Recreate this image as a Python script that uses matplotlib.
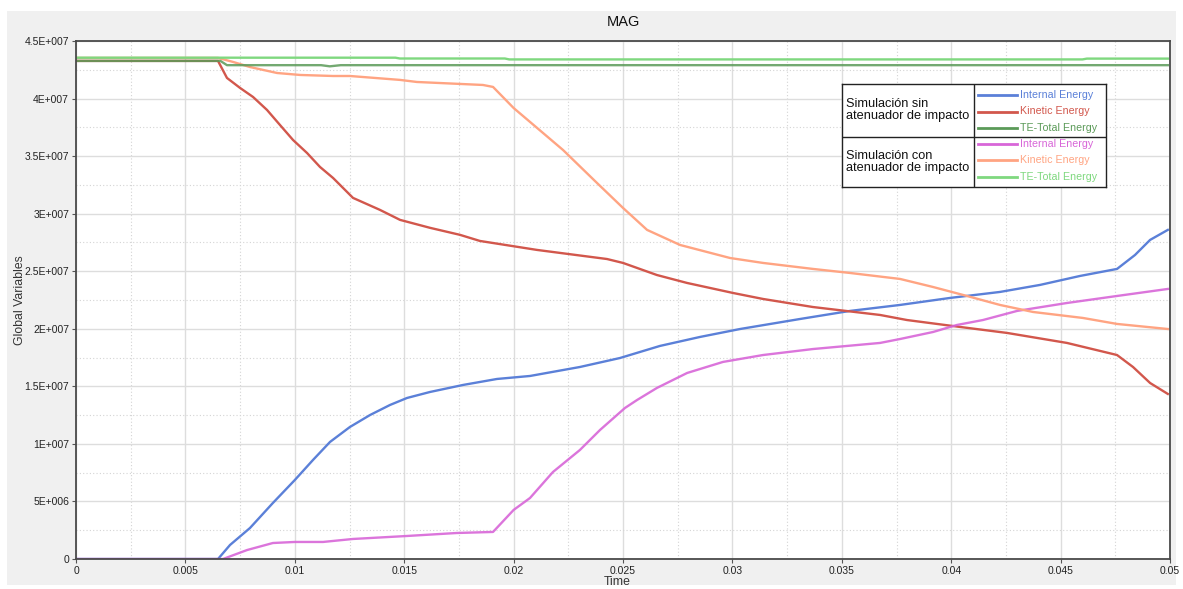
import numpy as np
import matplotlib.pyplot as plt
from matplotlib.patches import Rectangle

plt.rcParams['font.family'] = ['Liberation Sans', 'DejaVu Sans']

# Data (energy values in 1e7 units, time in s)
t_ie_sin = [0, 0.00649, 0.00704, 0.00795, 0.0090, 0.0100, 0.01083, 0.01161, 0.01252, 0.01344,
            0.01435, 0.01513, 0.01618, 0.01769, 0.01924, 0.02075, 0.02303, 0.02486, 0.02669,
            0.02852, 0.03035, 0.03309, 0.03537, 0.03766, 0.03995, 0.04223, 0.04406, 0.04589,
            0.04758, 0.0484, 0.04909, 0.0499]
ie_sin = [0, 0, 0.122, 0.269, 0.487, 0.686, 0.860, 1.017, 1.147, 1.251,
          1.338, 1.399, 1.451, 1.512, 1.564, 1.590, 1.668, 1.746, 1.851,
          1.929, 1.998, 2.085, 2.155, 2.207, 2.268, 2.320, 2.381, 2.459,
          2.520, 2.641, 2.772, 2.859]

t_ke_sin = [0, 0.00649, 0.0069, 0.0075, 0.00809, 0.00873, 0.00932, 0.00992, 0.01056, 0.01115,
            0.01175, 0.01266, 0.01389, 0.01481, 0.01618, 0.01755, 0.01846, 0.02107, 0.02427,
            0.025, 0.02655, 0.02793, 0.03003, 0.0314, 0.03368, 0.03675, 0.03798, 0.0404,
            0.04255, 0.04529, 0.04758, 0.04831, 0.04909, 0.0499]
ke_sin = [4.327, 4.327, 4.179, 4.092, 4.014, 3.901, 3.771, 3.640, 3.527, 3.406,
          3.310, 3.137, 3.033, 2.946, 2.877, 2.816, 2.763, 2.685, 2.606,
          2.572, 2.467, 2.398, 2.311, 2.259, 2.189, 2.120, 2.076, 2.016,
          1.964, 1.877, 1.772, 1.668, 1.529, 1.434]

t_te_sin = [0, 0.0066, 0.0069, 0.0112, 0.0116, 0.0121, 0.0499]
te_sin = [4.327, 4.327, 4.29, 4.29, 4.28, 4.29, 4.29]

t_ie_con = [0, 0.00672, 0.00782, 0.0090, 0.0100, 0.01129, 0.01266, 0.01513, 0.01741, 0.01906,
            0.0200, 0.02075, 0.0218, 0.02303, 0.02395, 0.02509, 0.02564, 0.02655, 0.02793,
            0.02957, 0.0314, 0.03368, 0.03675, 0.03766, 0.03917, 0.04026, 0.04145, 0.04301,
            0.04529, 0.04758, 0.0499]
ie_con = [0, 0, 0.078, 0.139, 0.148, 0.148, 0.174, 0.200, 0.226, 0.235,
          0.426, 0.530, 0.756, 0.947, 1.121, 1.312, 1.381, 1.486, 1.616,
          1.712, 1.772, 1.824, 1.877, 1.911, 1.972, 2.033, 2.076, 2.155,
          2.224, 2.285, 2.346]

t_ke_con = [0, 0.00649, 0.00718, 0.00795, 0.00919, 0.01024, 0.01175, 0.01252, 0.01481, 0.01558,
            0.0186, 0.01906, 0.0200, 0.02075, 0.02226, 0.02381, 0.025, 0.0261, 0.02761,
            0.02989, 0.0314, 0.03368, 0.03537, 0.03766, 0.03917, 0.04072, 0.04223, 0.04374,
            0.04602, 0.04758, 0.0499]
ke_con = [4.353, 4.353, 4.318, 4.274, 4.222, 4.205, 4.196, 4.196, 4.162, 4.144,
          4.118, 4.101, 3.918, 3.797, 3.553, 3.267, 3.050, 2.859, 2.728,
          2.615, 2.572, 2.520, 2.485, 2.433, 2.363, 2.285, 2.207, 2.146,
          2.094, 2.042, 1.998]

t_te_con = [0, 0.0146, 0.0148, 0.0196, 0.0198, 0.0460, 0.0462, 0.0499]
te_con = [4.355, 4.355, 4.348, 4.348, 4.34, 4.34, 4.347, 4.347]

x_ticks = [0, 0.005, 0.01, 0.015, 0.02, 0.025, 0.03, 0.035, 0.04, 0.045, 0.05]
x_labels = ['0', '0.005', '0.01', '0.015', '0.02', '0.025', '0.03', '0.035', '0.04', '0.045', '0.05']
y_ticks = [0, 0.5, 1, 1.5, 2, 2.5, 3, 3.5, 4, 4.5]
y_labels = ['0', '5E+006', '1E+007', '1.5E+007', '2E+007', '2.5E+007', '3E+007',
            '3.5E+007', '4E+007', '4.5E+007']

series_names = ['Internal Energy', 'Kinetic Energy', 'TE-Total Energy']
group_names = ['Simulación sin\natenuador de impacto', 'Simulación con\natenuador de impacto']
colors_sin = ['#5b80d8', '#d2574c', '#5b9a58']
colors_con = ['#d866d8', '#ffa482', '#7fd87f']

W, H = 1183, 589
fig = plt.figure(figsize=(W / 100, H / 100), dpi=100, facecolor='white')
fig.patches.append(Rectangle((7 / W, 4 / H), 1169 / W, 574 / H, transform=fig.transFigure,
                             facecolor='#f0f0f0', edgecolor='none', zorder=-10))

ax = fig.add_axes([76 / W, 30 / H, 1094 / W, 518 / H])
ax.set_facecolor('white')

lw = 1.7
ax.plot(t_ie_sin, ie_sin, color=colors_sin[0], lw=lw)
ax.plot(t_ke_sin, ke_sin, color=colors_sin[1], lw=lw)
ax.plot(t_ie_con, ie_con, color=colors_con[0], lw=lw, alpha=0.9)
ax.plot(t_ke_con, ke_con, color=colors_con[1], lw=lw)
ax.plot(t_te_con, te_con, color=colors_con[2], lw=lw)
ax.plot(t_te_sin, te_sin, color=colors_sin[2], lw=lw, alpha=0.85)

ax.set_xlim(0, 0.05)
ax.set_ylim(0, 4.5)
ax.set_xticks(x_ticks)
ax.set_xticklabels(x_labels)
ax.set_yticks(y_ticks)
ax.set_yticklabels(y_labels)
ax.set_xticks(np.arange(0.0025, 0.05, 0.005), minor=True)
ax.set_yticks(np.arange(0.25, 4.5, 0.5), minor=True)
ax.tick_params(which='major', length=3, width=0.8, color='#555555', labelsize=7.5,
               labelcolor='#222222', pad=2)
ax.tick_params(which='minor', length=0)
ax.grid(True, which='major', color='#dddddd', lw=1.0)
ax.grid(True, which='minor', color='#d4d4d4', lw=0.8, linestyle=(0, (1, 2)))
ax.set_axisbelow(True)
for s in ax.spines.values():
    s.set_color('#4a4a4a')
    s.set_linewidth(1.3)

ax.set_title('MAG', fontsize=10.5, color='#111111', pad=11)
ax.set_xlabel('Time', fontsize=8.8, color='#333333', labelpad=0)
ax.xaxis.set_label_coords(0.495, -0.033)
ax.set_ylabel('Global Variables', fontsize=8.8, color='#333333')
ax.yaxis.set_label_coords(-0.046, 0.5)

# table-style legend
lx0, ly0, lw_px, lh_px = 842, 84, 264, 103
lg = fig.add_axes([lx0 / W, (H - ly0 - lh_px) / H, lw_px / W, lh_px / H])
lg.set_xlim(0, lw_px)
lg.set_ylim(lh_px, 0)
lg.set_xticks([])
lg.set_yticks([])
lg.set_facecolor('white')
for s in lg.spines.values():
    s.set_color('#222222')
    s.set_linewidth(1.0)
lg.axvline(132, color='#222222', lw=1.0)
lg.axhline(52.5, color='#222222', lw=1.0)

row_y = [[11, 27.5, 44], [60, 76, 93]]
for g, (gname, cols) in enumerate(zip(group_names, [colors_sin, colors_con])):
    lg.text(4, [26, 78][g], gname, fontsize=9.2, va='center', ha='left',
            color='#111111', linespacing=1.1)
    for yy, name, c in zip(row_y[g], series_names, cols):
        lg.plot([136, 175], [yy, yy], color=c, lw=2)
        lg.text(178, yy, name, fontsize=7.7, color=c, va='center', ha='left')

fig.savefig('out.png', dpi=100, facecolor=fig.get_facecolor())
